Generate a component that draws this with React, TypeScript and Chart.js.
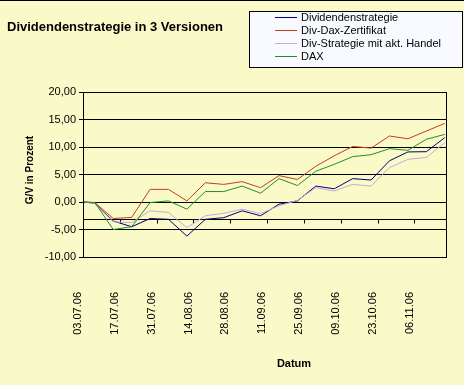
import React, { useEffect, useRef } from "react";
import { Chart, registerables } from "chart.js";

Chart.register(...registerables);

// ---------- data ----------
const dates = [
  "03.07.06", "07.07.06", "14.07.06", "21.07.06", "28.07.06", "04.08.06", "11.08.06",
  "18.08.06", "25.08.06", "01.09.06", "08.09.06", "15.09.06", "22.09.06", "29.09.06",
  "06.10.06", "13.10.06", "20.10.06", "27.10.06", "03.11.06", "10.11.06", "17.11.06",
];
const tickLabels = [
  "03.07.06", "17.07.06", "31.07.06", "14.08.06", "28.08.06",
  "11.09.06", "25.09.06", "09.10.06", "23.10.06", "06.11.06",
];
const dividendenstrategie = [
  0, -0.25, -3.45, -4.5, -3.0, -3.15, -6.2, -3.15, -2.85, -1.6, -2.5,
  -0.4, 0.2, 2.9, 2.4, 4.25, 4.0, 7.5, 9.1, 9.15, 11.7,
];
const divDaxZertifikat = [
  0, -0.1, -3.0, -2.8, 2.3, 2.3, 0.2, 3.5, 3.2, 3.7, 2.6,
  4.8, 4.1, 6.5, 8.4, 10.1, 9.8, 12.0, 11.5, 12.9, 14.3,
];
const divStrategieAktHandel = [
  0, -0.25, -3.6, -3.75, -1.6, -1.9, -4.65, -2.5, -2.05, -1.3, -2.1,
  -0.7, 0.3, 2.6, 2.0, 3.2, 2.9, 6.25, 7.75, 8.1, 10.8,
];
const dax = [
  0, -0.1, -5.0, -4.5, -0.1, 0.2, -1.3, 1.9, 1.9, 2.9, 1.6,
  4.25, 3.0, 5.6, 6.85, 8.25, 8.6, 9.7, 9.4, 11.4, 12.3,
];
const seriesNames = ["Dividendenstrategie", "Div-Dax-Zertifikat", "Div-Strategie mit akt. Handel", "DAX"];
const seriesColors = ["#000080", "#C0401F", "#C8A8D8", "#2A8A2A"];
const seriesValues = [dividendenstrategie, divDaxZertifikat, divStrategieAktHandel, dax];

const yMin = -10;
const yMax = 20;
const yStep = 5;
const axisCross = -3;
const chartTitle = "Dividendenstrategie in 3 Versionen";
const yTitle = "G/V in Prozent";
const xTitle = "Datum";

const FONT = "'Liberation Sans', Arial, sans-serif";
const BG = "#FAFAC8";

function dayOffset(s: string): number {
  const [d, m, y] = s.split(".").map(Number);
  return (Date.UTC(2000 + y, m - 1, d) - Date.UTC(2006, 6, 3)) / 86400000;
}

const decorPlugin = {
  id: "decor",
  beforeDraw(chart: any) {
    const ctx = chart.ctx;
    ctx.save();
    ctx.fillStyle = BG;
    ctx.fillRect(0, 0, chart.width, chart.height);
    ctx.fillStyle = "#000";
    ctx.fillRect(0, 0, chart.width, 1);
    ctx.restore();
  },
  beforeDatasetsDraw(chart: any) {
    const ctx = chart.ctx;
    const { left, right, top, bottom } = chart.chartArea;
    const ys = chart.scales.y;
    const xs = chart.scales.x;
    const yAx = Math.round(ys.getPixelForValue(axisCross)) + 0.5;
    ctx.save();
    ctx.strokeStyle = "#000";
    ctx.lineWidth = 1;
    ctx.beginPath();
    ctx.moveTo(left, yAx);
    ctx.lineTo(right, yAx);
    xs.ticks.forEach((t: any) => {
      const px = Math.round(xs.getPixelForValue(t.value)) + 0.5;
      ctx.moveTo(px, yAx);
      ctx.lineTo(px, yAx + 4);
    });
    // plot area right border
    ctx.moveTo(Math.round(right) + 0.5, Math.round(top));
    ctx.lineTo(Math.round(right) + 0.5, Math.round(bottom) + 1);
    ctx.stroke();
    ctx.restore();
  },
  afterDraw(chart: any) {
    const ctx = chart.ctx;
    ctx.save();
    ctx.fillStyle = "#000";
    // chart title
    ctx.font = `bold 13px ${FONT}`;
    ctx.textBaseline = "middle";
    ctx.textAlign = "left";
    ctx.fillText(chartTitle, 7, 27);
    // y title
    ctx.save();
    ctx.translate(30, 170);
    ctx.rotate(-Math.PI / 2);
    ctx.font = `bold 10px ${FONT}`;
    ctx.textAlign = "center";
    ctx.fillText(yTitle, 0, 0);
    ctx.restore();
    // x title
    ctx.font = `bold 11px ${FONT}`;
    ctx.textAlign = "center";
    ctx.fillText(xTitle, 294, 364);
    // legend
    const bx = 249.5, by = 11.5, bw = 213, bh = 56;
    ctx.fillStyle = "#F8FAFF";
    ctx.fillRect(bx, by, bw, bh);
    ctx.strokeStyle = "#000";
    ctx.lineWidth = 1;
    ctx.strokeRect(bx, by, bw, bh);
    ctx.font = `11px ${FONT}`;
    ctx.textAlign = "left";
    seriesNames.forEach((name, i) => {
      const ry = Math.round(16.5 + i * 13.3);
      ctx.strokeStyle = seriesColors[i];
      ctx.beginPath();
      ctx.moveTo(275, ry + 0.5);
      ctx.lineTo(297, ry + 0.5);
      ctx.stroke();
      ctx.fillStyle = "#000";
      ctx.fillText(name, 301, ry + 1);
    });
    ctx.restore();
  },
};

export default function App() {
  const ref = useRef<HTMLCanvasElement | null>(null);
  useEffect(() => {
    if (!ref.current) return;
    const xs = dates.map((d) => dayOffset(d) + 0.5);
    const chart = new Chart(ref.current, {
      type: "line",
      data: {
        datasets: seriesNames.map((name, i) => ({
          label: name,
          data: seriesValues[i].map((v, j) => ({ x: xs[j], y: v })),
          borderColor: seriesColors[i],
          backgroundColor: seriesColors[i],
          borderWidth: 1,
          pointRadius: 0,
          tension: 0,
          fill: false,
          order: 3 - i,
        })),
      },
      options: {
        animation: false,
        responsive: false,
        devicePixelRatio: 1,
        layout: { padding: { top: 92, right: 15, left: 0, bottom: 0 } },
        plugins: { legend: { display: false }, title: { display: false }, tooltip: { enabled: false } },
        font: { family: FONT },
        scales: {
          x: {
            type: "linear",
            min: 0,
            max: 138,
            grid: { display: false, drawTicks: false },
            border: { display: false },
            afterBuildTicks: (scale: any) => {
              scale.ticks = tickLabels.map((l) => ({ value: dayOffset(l) }));
            },
            afterFit: (scale: any) => {
              scale.height = 128;
            },
            ticks: {
              autoSkip: false,
              maxRotation: 90,
              minRotation: 90,
              padding: 35,
              labelOffset: -5,
              color: "#000",
              font: { family: FONT, size: 11 },
              callback: (_v: any, i: number) => tickLabels[i],
            },
          },
          y: {
            min: yMin,
            max: yMax,
            afterFit: (scale: any) => {
              scale.width = 83;
            },
            grid: { color: "#000", lineWidth: 1, tickLength: 4, drawTicks: true },
            border: { display: true, color: "#000", width: 1 },
            ticks: {
              stepSize: yStep,
              padding: 3,
              color: "#000",
              font: { family: FONT, size: 11 },
              callback: (v: any) => Number(v).toFixed(2).replace(".", ","),
            },
          },
        },
      },
      plugins: [decorPlugin],
    } as any);
    return () => chart.destroy();
  }, []);
  return (
    <div style={{ position: "absolute", left: 0, top: 0, width: 464, height: 385 }}>
      <canvas ref={ref} width={464} height={385} style={{ width: 464, height: 385, display: "block" }} />
    </div>
  );
}
